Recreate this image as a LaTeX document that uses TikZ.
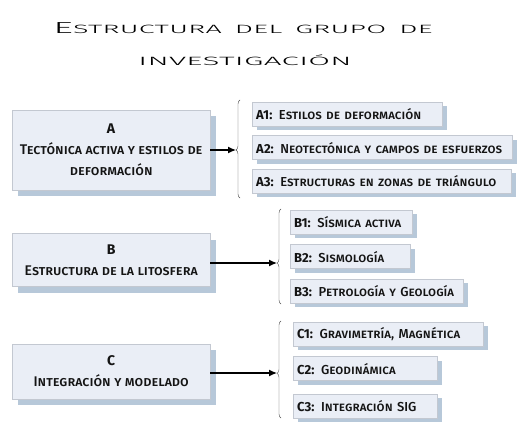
\documentclass[tikz,border=0pt]{standalone}
\usepackage{fontspec}
\setmainfont{Fira Sans}[UprightFont=* Medium,BoldFont=* Bold]
\newfontfamily\titlefont{Fira Sans Light}[LetterSpace=1]
\usepackage{graphicx}
\usetikzlibrary{arrows.meta,positioning,calc,shadows,decorations.pathreplacing}
\definecolor{ink}{HTML}{141414}
\definecolor{pale}{HTML}{EAEEF6}
\definecolor{edge}{HTML}{C3C8D1}
\definecolor{shade}{HTML}{B7C8D9}
\newcommand{\bigsc}[2]{{\fontsize{16}{16}\selectfont #1}{\fontsize{12}{12}\selectfont #2}}

\begin{document}
\begin{tikzpicture}[x=1pt,y=-1pt,
 box/.style={draw=edge,fill=pale,text=ink},
 mainbox/.style={box,align=center,minimum width=198pt,inner sep=2pt,
  font=\fontsize{14}{21}\selectfont,
  drop shadow={shadow xshift=6pt,shadow yshift=-6pt,fill=shade,opacity=1}},
 subbox/.style={box,align=left,text width=#1,minimum height=24pt,inner sep=4pt,
  font=\fontsize{13}{14}\selectfont,
  drop shadow={shadow xshift=5pt,shadow yshift=-4pt,fill=shade,opacity=1}},
 brace/.style={draw=black!70,decorate,decoration={brace,amplitude=4pt,aspect=#1}},
 arr/.style={-{Latex[length=8pt,width=7pt]},line width=1.3pt,draw=black}]
 \useasboundingbox (0,0) rectangle (530,436);
 % title
 \node[font=\titlefont] (title) at (243,28)
  {\scalebox{2.4}[1]{\bigsc{E}{STRUCTURA\, DEL\, GRUPO\, DE}}};
 \node[font=\titlefont] (subtitle) at (245,60)
  {\scalebox{2.62}[1]{\bigsc{}{INVESTIGACIÓN}}};
 % main groups
 \node[mainbox,minimum height=80pt,anchor=north west] (A) at (12,110)
  {\textbf{A}\\\scshape Tectónica activa y estilos de\\\scshape deformación};
 \node[mainbox,minimum height=53pt,below=43pt of A] (B)
  {\textbf{B}\\\scshape Estructura de la litosfera};
 \node[mainbox,minimum height=55pt,below=57pt of B] (C)
  {\textbf{C}\\\scshape Integración y modelado};
 % lines of A
 \node[subbox=182pt,anchor=north west] (A1) at (252,102)
  {\textbf{A1:} {\scshape Estilos de deformación}};
 \node[subbox=252pt,below right=9pt and 0pt of A1.south west] (A2)
  {\textbf{A2:} {\scshape Neotectónica y campos de esfuerzos}};
 \node[subbox=251pt,below right=9pt and 0pt of A2.south west] (A3)
  {\textbf{A3:} {\scshape Estructuras en zonas de triángulo}};
 % lines of B
 \node[subbox=114pt,anchor=north west] (B1) at (290,210)
  {\textbf{B1:} {\scshape Sísmica activa}};
 \node[subbox=112pt,below right=10pt and 0pt of B1.south west] (B2)
  {\textbf{B2:} {\scshape Sismología}};
 \node[subbox=165pt,below right=10pt and 0pt of B2.south west] (B3)
  {\textbf{B3:} {\scshape Petrología y Geología}};
 % lines of C
 \node[subbox=182pt,anchor=north west] (C1) at (293,322)
  {\textbf{C1:} {\scshape Gravimetría, Magnética}};
 \node[subbox=136pt,below right=10pt and 0pt of C1.south west] (C2)
  {\textbf{C2:} {\scshape Geodinámica}};
 \node[subbox=136pt,below right=13pt and 0pt of C2.south west] (C3)
  {\textbf{C3:} {\scshape Integración SIG}};
 % braces
 \draw[brace=0.49] (240,198) -- (240,100);
 \draw[brace=0.43] (281,304) -- (281,209);
 \draw[brace=0.46] (281,418) -- (281,321);
 \coordinate (A-cusp) at (236,150);
 \coordinate (B-cusp) at (277,263);
 \coordinate (C-cusp) at (277,373);
 \draw[arr] (A.east |- A-cusp) -- (A-cusp);
 \draw[arr] (B.east |- B-cusp) -- (B-cusp);
 \draw[arr] (C.east |- C-cusp) -- (C-cusp);
\end{tikzpicture}
\end{document}
